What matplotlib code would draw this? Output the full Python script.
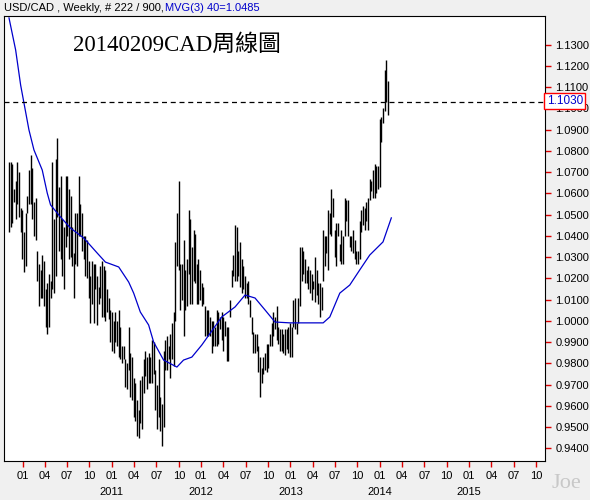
#!/usr/bin/env python3
"""Weekly USD/CAD bar chart with 40-week moving average."""

import matplotlib
matplotlib.use("Agg")
import matplotlib.pyplot as plt

plt.rcParams["font.family"] = ["Liberation Sans", "DejaVu Sans"]

# weekly (high, low), oldest first
BARS = [
    (1.075, 1.042), (1.075, 1.044), (1.074, 1.046), (1.062, 1.056), (1.066, 1.048),
    (1.075, 1.055), (1.070, 1.049), (1.053, 1.042), (1.052, 1.029), (1.042, 1.023),
    (1.051, 1.026), (1.059, 1.051), (1.071, 1.055), (1.078, 1.055), (1.072, 1.048),
    (1.056, 1.040), (1.058, 1.038), (1.033, 1.019), (1.027, 1.007), (1.024, 1.011),
    (1.031, 1.011), (1.028, 1.007), (1.015, 0.997), (1.018, 0.994), (1.022, 0.997),
    (1.019, 1.011), (1.075, 1.015), (1.048, 1.013), (1.076, 1.021), (1.086, 1.049),
    (1.063, 1.033), (1.068, 1.029), (1.048, 1.021), (1.044, 1.015), (1.068, 1.035),
    (1.068, 1.040), (1.062, 1.029), (1.059, 1.030), (1.044, 1.026), (1.032, 1.011),
    (1.051, 1.027), (1.051, 1.026), (1.068, 1.040), (1.055, 1.040), (1.051, 1.033),
    (1.040, 1.029), (1.040, 1.021), (1.038, 1.020), (1.028, 1.011), (1.021, 0.999),
    (1.028, 1.008), (1.027, 0.999), (1.027, 1.015), (1.021, 0.998), (1.016, 1.008),
    (1.026, 1.011), (1.028, 1.002), (1.026, 1.002), (1.024, 1.000), (1.015, 1.004),
    (1.011, 1.001), (1.005, 0.990), (1.004, 0.986), (1.000, 0.985), (1.004, 0.990),
    (1.000, 0.988), (1.005, 0.983), (0.997, 0.982), (0.988, 0.980), (0.988, 0.982),
    (0.982, 0.969), (0.980, 0.968), (0.997, 0.977), (0.985, 0.964), (0.983, 0.963),
    (0.973, 0.955), (0.971, 0.953), (0.963, 0.946), (0.958, 0.945), (0.972, 0.952),
    (0.974, 0.949), (0.982, 0.966), (0.986, 0.974), (0.983, 0.968), (0.985, 0.971),
    (0.983, 0.971), (0.991, 0.971), (0.990, 0.975), (0.977, 0.958), (0.970, 0.949),
    (0.982, 0.955), (0.964, 0.948), (0.961, 0.941), (0.986, 0.950), (0.991, 0.977),
    (0.993, 0.977), (0.988, 0.982), (0.994, 0.973), (0.999, 0.982), (1.004, 0.979),
    (1.037, 1.000), (1.051, 1.026), (1.066, 1.024), (1.027, 1.005), (1.027, 1.010),
    (1.038, 0.993), (1.024, 1.005), (1.029, 1.007), (1.052, 1.022), (1.048, 1.008),
    (1.035, 1.008), (1.043, 1.019), (1.041, 1.018),
    (1.027, 1.008), (1.029, 1.008), (1.024, 1.010), (1.018, 1.007), (1.016, 1.008),
    (1.007, 0.993), (1.005, 0.993), (1.005, 0.993), (1.002, 0.993), (1.000, 0.985),
    (1.000, 0.988), (0.997, 0.988), (1.005, 0.988), (1.004, 0.989), (1.002, 0.996),
    (1.004, 0.991), (1.002, 0.986), (1.000, 0.993), (0.997, 0.981), (0.997, 0.981),
    (1.010, 1.002), (1.024, 1.016), (1.031, 1.021), (1.045, 1.019), (1.044, 1.019),
    (1.033, 1.021), (1.037, 1.016), (1.029, 1.013), (1.026, 1.015), (1.021, 1.011),
    (1.018, 1.011), (1.019, 1.008), (1.010, 1.002), (1.002, 0.994), (0.995, 0.985),
    (0.994, 0.985), (0.994, 0.986), (0.988, 0.976), (0.983, 0.964), (0.978, 0.971),
    (0.983, 0.975), (0.985, 0.977), (0.989, 0.976), (0.989, 0.978), (0.994, 0.988),
    (0.999, 0.988), (1.004, 0.993), (1.002, 0.996), (1.007, 0.991), (0.997, 0.989),
    (0.996, 0.986), (0.996, 0.986), (0.994, 0.985), (0.996, 0.984), (0.996, 0.987),
    (0.997, 0.985), (0.999, 0.983), (0.997, 0.983), (1.010, 0.997), (1.011, 0.996),
    (0.999, 0.994), (1.011, 0.999), (1.035, 1.007), (1.035, 1.019), (1.033, 1.022),
    (1.029, 1.018), (1.024, 1.018), (1.026, 1.015), (1.024, 1.013), (1.022, 1.010),
    (1.019, 1.015), (1.030, 1.009), (1.024, 1.012), (1.018, 1.008), (1.018, 1.002),
    (1.016, 1.005), (1.043, 1.019), (1.040, 1.026), (1.040, 1.032), (1.052, 1.024),
    (1.051, 1.041), (1.062, 1.040), (1.058, 1.049), (1.043, 1.030), (1.046, 1.026),
    (1.046, 1.040), (1.036, 1.028), (1.043, 1.027), (1.040, 1.027), (1.058, 1.040),
    (1.057, 1.047), (1.057, 1.040), (1.040, 1.035), (1.040, 1.033), (1.043, 1.032),
    (1.038, 1.029), (1.033, 1.027), (1.033, 1.027), (1.047, 1.029), (1.052, 1.042),
    (1.054, 1.045), (1.053, 1.043), (1.056, 1.047), (1.058, 1.043), (1.067, 1.057),
    (1.066, 1.061), (1.071, 1.058),
    (1.074, 1.058), (1.073, 1.060), (1.073, 1.062), (1.095, 1.063), (1.096, 1.084),
    (1.100, 1.093), (1.118, 1.099), (1.123, 1.103), (1.113, 1.097),
]

# 40-week moving average, sampled at bar indices
MA_IDX = [0, 4, 7, 12, 15, 20, 23, 25, 31, 37, 45, 53, 58, 66, 72, 75, 79, 84, 87,
          93, 101, 105, 110, 116, 128, 136, 142, 148, 154, 160, 169, 178, 189, 193,
          199, 205, 211, 217, 225, 230]
MA_VAL = [1.1426, 1.1275, 1.1110, 1.0899, 1.0805, 1.0710, 1.0602, 1.0546, 1.0489,
          1.0437, 1.0390, 1.0320, 1.0277, 1.0254, 1.0183, 1.0131, 1.0042, 0.9981,
          0.9901, 0.9816, 0.9783, 0.9816, 0.9830, 0.9887, 1.0019, 1.0066, 1.0122,
          1.0108, 1.0052, 0.9995, 0.9991, 0.9991, 0.9991, 1.0019, 1.0131, 1.0169,
          1.0240, 1.0310, 1.0372, 1.0485]

LAST = 1.1030
Y_TICKS = [0.94 + 0.01 * k for k in range(20)]
MONTHS = ["01", "04", "07", "10"] * 6
YEARS = ["2011", "2012", "2013", "2014", "2015"]

W, H = 590, 500
AX_L, AX_R, AX_T, AX_B = 4, 545, 16, 461   # plot box in pixels


def main() -> None:
    n = len(BARS)
    scale = (388 - 9) / (n - 1)          # pixels per bar
    px2i = lambda px: (px - 9) / scale   # pixel column -> bar index

    fig = plt.figure(figsize=(W / 100, H / 100), dpi=100, facecolor="#f0f0f0")
    ax = fig.add_axes([AX_L / W, 1 - AX_B / H, (AX_R - AX_L) / W, (AX_B - AX_T) / H])
    ax.set_facecolor("white")

    xs = list(range(n))
    ax.vlines(xs, [b[1] for b in BARS], [b[0] for b in BARS], color="black", linewidth=1.0)
    ax.plot(MA_IDX, MA_VAL, color="#0000cc", linewidth=0.9)
    ax.axhline(LAST, color="black", linestyle=(0, (4, 3)), linewidth=0.9)

    ax.set_xlim(px2i(AX_L), px2i(AX_R))
    ax.set_ylim(0.9341, 1.1435)

    ax.yaxis.tick_right()
    ax.set_yticks(Y_TICKS)
    ax.set_yticklabels([f"{v:.4f}" for v in Y_TICKS], fontsize=8)
    month_px = [22.5 + 22.33 * k for k in range(len(MONTHS))]
    ax.set_xticks([px2i(p) for p in month_px])
    ax.set_xticklabels(MONTHS, fontsize=8)
    ax.tick_params(axis="both", colors="#dd0000", labelcolor="black", length=4, width=1)
    for k, yr in enumerate(YEARS):
        fig.text(month_px[4 * (k + 1)] / W, 1 - 492 / H, yr, ha="center", va="center",
                 fontsize=8)
    for s in ax.spines.values():
        s.set_color("black")

    fig.text(AX_R / W + 0.003, 1 - 101 / H, f"{LAST:.4f}", color="#0000cc", fontsize=8.5,
             va="center", ha="left", zorder=10,
             bbox=dict(boxstyle="square,pad=0.2", fc="white", ec="red", lw=1))

    fig.text(4 / W, 1 - 8 / H, "USD/CAD , Weekly, # 222 / 900,", fontsize=8, va="center")
    fig.text(165 / W, 1 - 8 / H, "MVG(3) 40=1.0485", fontsize=8, va="center", color="#0000cc")
    fig.text(73 / W, 1 - 45 / H, "20140209CAD周線圖", fontsize=16.5, va="center",
             family=["Liberation Serif", "Noto Sans CJK TC"])
    fig.text(552 / W, 1 - 484 / H, "Joe", fontsize=16, va="center", color="#c8c8c8",
             family="Liberation Serif")

    fig.savefig("out.png", dpi=100, facecolor=fig.get_facecolor())
    plt.close("all")


if __name__ == "__main__":
    main()
